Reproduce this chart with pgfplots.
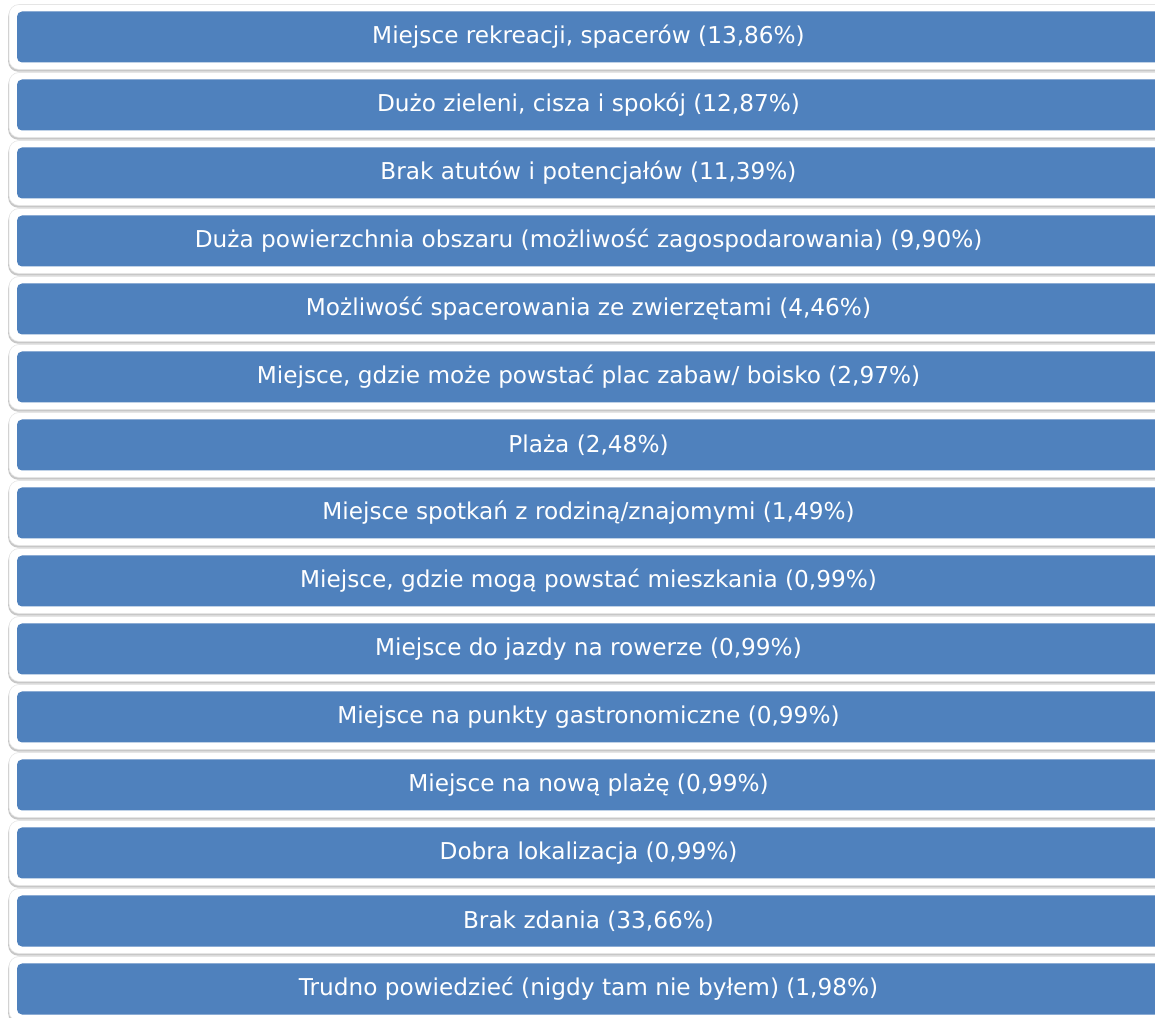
\documentclass[border=0pt]{standalone}
\usepackage{pgfplots}
\pgfplotsset{compat=1.18}
\usepackage{pgfplotstable}
\usepackage{fontspec}
\setmainfont{DejaVu Sans}
\usetikzlibrary{shadows}
\definecolor{boxblue}{HTML}{4F81BD}

\pgfplotstableread[col sep=semicolon]{
row;xc;pct;label
1;588.5;13.86;Miejsce rekreacji, spacerów
2;588.5;12.87;Dużo zieleni, cisza i spokój
3;588.5;11.39;Brak atutów i potencjałów
4;588.5;9.90;Duża powierzchnia obszaru (możliwość zagospodarowania)
5;588.5;4.46;Możliwość spacerowania ze zwierzętami
6;588.5;2.97;Miejsce, gdzie może powstać plac zabaw/ boisko
7;588.5;2.48;Plaża
8;588.5;1.49;Miejsce spotkań z rodziną/znajomymi
9;588.5;0.99;Miejsce, gdzie mogą powstać mieszkania
10;588.5;0.99;Miejsce do jazdy na rowerze
11;588.5;0.99;Miejsce na punkty gastronomiczne
12;588.5;0.99;Miejsce na nową plażę
13;588.5;0.99;Dobra lokalizacja
14;588.5;33.66;Brak zdania
15;588.5;1.98;Trudno powiedzieć (nigdy tam nie byłem)
}\answers

\begin{document}
\begin{tikzpicture}
\begin{axis}[
  width=577.5pt, height=508.5pt, scale only axis, hide axis,
  xmin=0, xmax=1155, ymin=0.456, ymax=15.412, y dir=reverse,
  clip=true,
]
% white frames with soft shadow
\addplot[draw=none, mark=none,
  nodes near coords={},
  nodes near coords style={anchor=center, shape=rectangle, inner sep=0pt,
    minimum width=579.5pt, minimum height=32.5pt, rounded corners=5pt,
    fill=white, draw=black!10, line width=0.3pt,
    drop shadow={shadow xshift=-0.4pt, shadow yshift=-1.1pt, fill=black, opacity=0.22}},
] table[x=xc, y=row] {\answers};
% blue boxes with text
\addplot[draw=none, mark=none,
  point meta=explicit symbolic,
  visualization depends on={\thisrow{pct}\as\pct},
  nodes near coords={\pgfplotspointmeta\ (\pgfmathprintnumber[fixed, fixed zerofill, precision=2, use comma, assume math mode=true]{\pct}\%)},
  nodes near coords style={anchor=center, shape=rectangle, inner sep=0pt,
    minimum width=571.5pt, minimum height=25.5pt, rounded corners=2.5pt,
    fill=boxblue, text=white, font=\fontsize{11.6}{13.5}\selectfont},
] table[x=xc, y=row, meta=label] {\answers};
\end{axis}
\pgfresetboundingbox
\path[use as bounding box] (current axis.south west) rectangle (current axis.north east);
\end{tikzpicture}
\end{document}
